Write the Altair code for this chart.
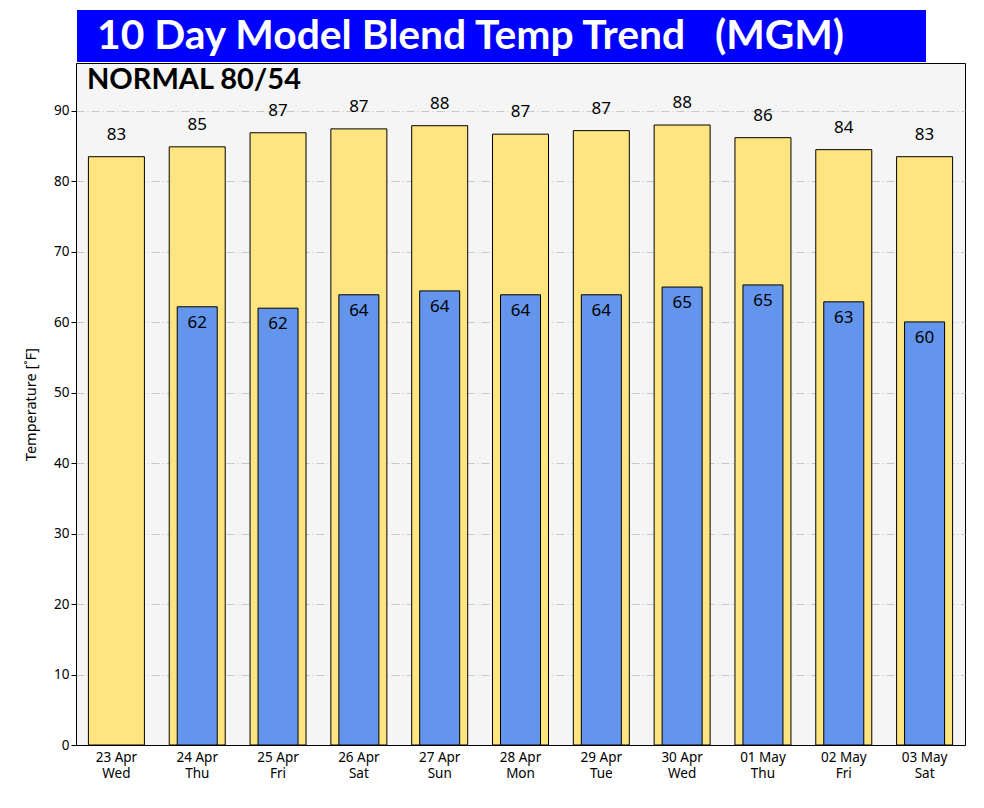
import altair as alt
import pandas as pd

days = ["23 Apr|Wed", "24 Apr|Thu", "25 Apr|Fri", "26 Apr|Sat", "27 Apr|Sun", "28 Apr|Mon",
        "29 Apr|Tue", "30 Apr|Wed", "01 May|Thu", "02 May|Fri", "03 May|Sat"]
highs = [83.5, 84.9, 86.9, 87.45, 87.9, 86.7, 87.2, 88.0, 86.2, 84.5, 83.5]
lows = [None, 62.2, 62.0, 63.9, 64.45, 63.9, 63.9, 65.0, 65.3, 62.9, 60.05]
high_labels = ["83", "85", "87", "87", "88", "87", "87", "88", "86", "84", "83"]
low_labels = ["", "62", "62", "64", "64", "64", "64", "65", "65", "63", "60"]
y_ticks = [0, 10, 20, 30, 40, 50, 60, 70, 80, 90]
title_text = "10 Day Model Blend Temp Trend\u00a0\u00a0\u00a0(MGM)"
normal_text = "NORMAL 80/54"

df = pd.DataFrame({"day": days, "high": highs, "low": lows,
                   "hl": high_labels, "ll": low_labels})

W, H = 889, 682
xenc = alt.X("day:N", sort=days, title=None,
             scale=alt.Scale(paddingInner=0, paddingOuter=0),
             axis=alt.Axis(labelExpr="split(datum.value, '|')", labelAngle=0,
                           ticks=False, labelFont="Noto Sans", labelFontSize=13.5,
                           labelColor="black", labelLineHeight=16.5, labelPadding=5,
                           domainColor="black", grid=False, labelBaseline="top"))
yscale = alt.Scale(domain=[0, 96.8], nice=False)
yaxis = alt.Axis(values=y_ticks, title="Temperature [˚F]", titleFont="Noto Sans",
                 titleFontSize=14.5, titleFontWeight="normal", titleColor="black",
                 titlePadding=15, labelFont="Noto Sans", labelFontSize=13.5,
                 labelColor="black", tickColor="black", tickSize=5, domainColor="black",
                 grid=True, gridColor="#bdbdbd", gridDash=[8, 3, 1, 3], gridWidth=0.8)

base = alt.Chart(df)

high_bars = base.mark_bar(size=56, color="#FFE57F", stroke="black", strokeWidth=1).encode(
    x=xenc, y=alt.Y("high:Q", scale=yscale, axis=yaxis))
low_bars = base.transform_filter("isValid(datum.low)").mark_bar(
    size=40, color="#6495ED", stroke="black", strokeWidth=1).encode(
    x=alt.X("day:N", sort=days), y=alt.Y("low:Q"))
high_text = base.mark_text(font="Noto Sans", fontSize=17, color="black",
                           baseline="middle", dy=-22).encode(
    x=alt.X("day:N", sort=days), y=alt.Y("high:Q"), text="hl:N")
low_text = base.transform_filter("isValid(datum.low)").mark_text(
    font="Noto Sans", fontSize=17, color="black", baseline="middle", dy=16).encode(
    x=alt.X("day:N", sort=days), y=alt.Y("low:Q"), text="ll:N")

one = alt.Data(values=[{"k": 1}])
title_box = alt.Chart(one).mark_rect(color="#0000FF").encode(
    x=alt.value(1), x2=alt.value(850), y=alt.value(-53), y2=alt.value(-1))
title_txt = alt.Chart(one).mark_text(font="Lato", fontWeight="bold", fontSize=40.8,
                                     color="white", align="left", baseline="middle").encode(
    x=alt.value(21), y=alt.value(-26), text=alt.value(title_text))
normal_txt = alt.Chart(one).mark_text(font="Lato", fontWeight="bold", fontSize=29,
                                      color="black", align="left", baseline="middle").encode(
    x=alt.value(11), y=alt.value(17), text=alt.value(normal_text))

chart = alt.layer(high_bars, low_bars, high_text, low_text, title_box, title_txt,
                  normal_txt).properties(
    width=W, height=H, background="white",
    padding={"left": 15, "top": 2, "right": 5, "bottom": 5}
).configure_view(fill="#F5F5F5", stroke="black", strokeWidth=1)

chart.save("out.html", embed_options={"renderer": "svg", "actions": False})
